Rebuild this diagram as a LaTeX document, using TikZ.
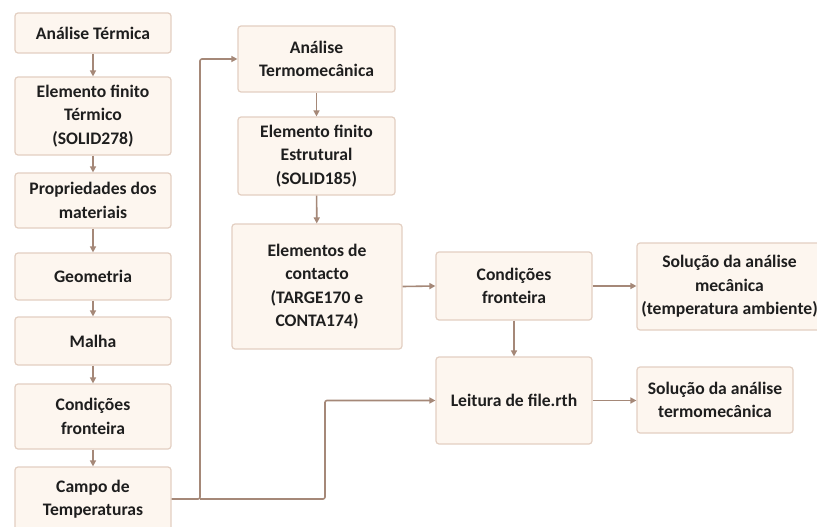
\documentclass[tikz,border=0pt]{standalone}
\usepackage{fontspec}
\setmainfont{Carlito}
\usetikzlibrary{arrows.meta}
\definecolor{boxfill}{HTML}{FDF6EF}
\definecolor{boxline}{HTML}{E3CFC2}
\definecolor{arrcol}{HTML}{A58878}
\definecolor{txt}{HTML}{1E1E1E}
\tikzset{
  box/.style={draw=boxline, fill=boxfill, line width=1.2pt, rounded corners=3pt,
    align=center, inner sep=0pt, text=txt,
    font=\fontsize{17.6}{23.5}\selectfont\bfseries},
  arr/.style={draw=arrcol, line width=1.6pt, rounded corners=2pt,
    -{Triangle[length=6pt,width=6pt]}}
}
\begin{document}
\begin{tikzpicture}[x=1pt,y=-1pt]
\useasboundingbox[fill=white] (0,0) rectangle (817,527);
% left column
\node[box, minimum width=156pt, minimum height=40pt] (a1) at (93,33) {Análise Térmica};
\node[box, minimum width=156pt, minimum height=78pt] (a2) at (93,116) {Elemento finito\\Térmico\\(SOLID278)};
\node[box, minimum width=156pt, minimum height=55pt] (a3) at (93,200.5) {Propriedades dos\\materiais};
\node[box, minimum width=156pt, minimum height=47pt] (a4) at (93,276.5) {Geometria};
\node[box, minimum width=156pt, minimum height=48pt] (a5) at (93,341) {Malha};
\node[box, minimum width=156pt, minimum height=65pt] (a6) at (93,416.5) {Condições\\fronteira};
\node[box, minimum width=156pt, minimum height=64pt] (a7) at (93,499) {Campo de\\Temperaturas};
% middle column
\node[box, minimum width=157pt, minimum height=66pt] (b1) at (316.5,59) {Análise\\Termomecânica};
\node[box, minimum width=157pt, minimum height=78pt] (b2) at (316.5,156) {Elemento finito\\Estrutural\\(SOLID185)};
\node[box, minimum width=170pt, minimum height=125pt] (b3) at (317,286.5) {Elementos de\\contacto\\(TARGE170 e\\CONTA174)};
% right part
\node[box, minimum width=156pt, minimum height=68pt] (c1) at (514,286) {Condições\\fronteira};
\node[box, minimum width=156pt, minimum height=87pt] (c2) at (514,400.5) {Leitura de file.rth};
\node[box, minimum width=185pt, minimum height=87pt] (d1) at (729.5,286.5) {Solução da análise\\mecânica\\(temperatura ambiente)};
\node[box, minimum width=156pt, minimum height=66pt] (d2) at (715,400) {Solução da análise\\termomecânica};
% connectors
\draw[arr] (a1) -- (a2);
\draw[arr] (a2) -- (a3);
\draw[arr] (a3) -- (a4);
\draw[arr] (a4) -- (a5);
\draw[arr] (a5) -- (a6);
\draw[arr] (a6) -- (a7);
\draw[arr] (b1) -- (b2);
\draw[arr] (b2) -- (b3);
\coordinate (j) at (200,499);
\coordinate (k) at (325,499);
\draw[arr] (a7.east) -- (j) |- (b1.west);
\draw[arr] (j) -- (k) |- (c2.west);
\draw[arr] (b3.east) -- (c1.west);
\draw[arr] (c1.east) -- (d1.west |- c1.east);
\draw[arr] (c1) -- (c2);
\draw[arr] (c2.east) -- (d2.west |- c2.east);
\end{tikzpicture}
\end{document}
